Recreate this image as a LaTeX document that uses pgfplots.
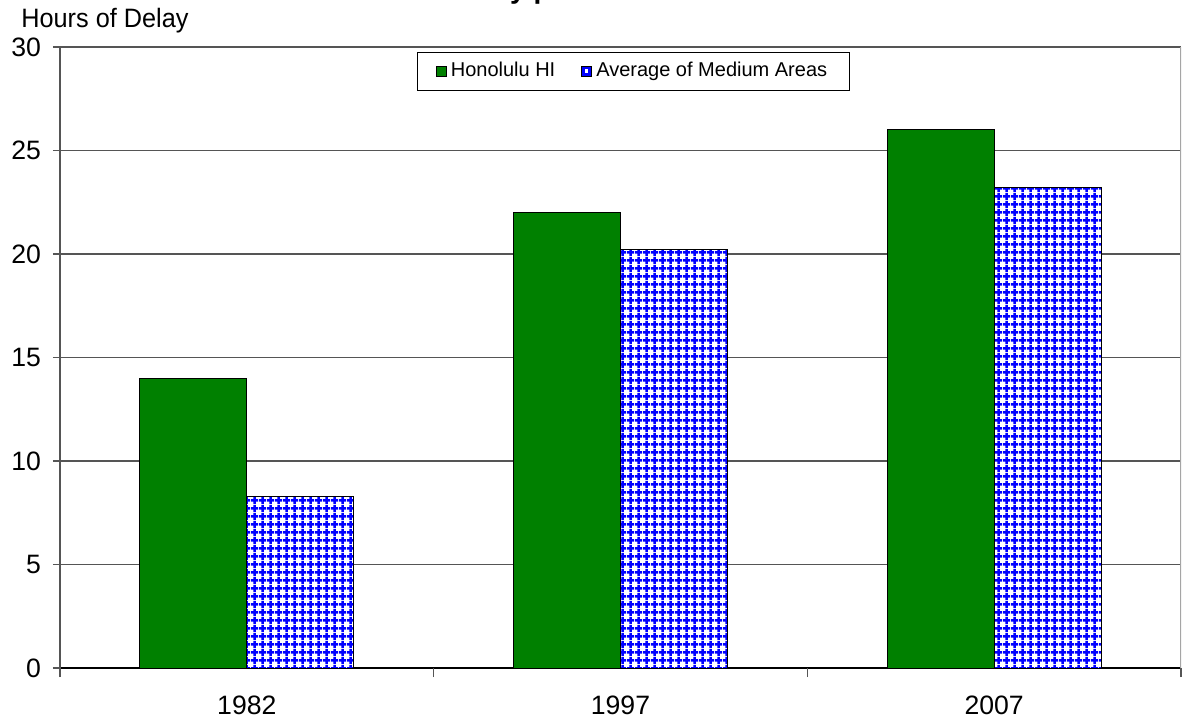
\documentclass[border=0pt]{standalone}
\usepackage{pgfplots}
\pgfplotsset{compat=1.18}
\usepackage{fontspec}
\setmainfont{Liberation Sans}
\usetikzlibrary{patterns.meta}
\definecolor{exgreen}{RGB}{0,128,0}
\definecolor{gridgray}{RGB}{85,85,85}
\definecolor{bordergray}{RGB}{165,165,165}
\tikzdeclarepattern{
  name=bluegrid,
  type=uncolored,
  bottom left={(0pt,0pt)},
  top right={(3.8pt,3.8pt)},
  tile size={(3.8pt,3.8pt)},
  code={
    \pgfsetlinewidth{1.25pt}
    \pgfpathmoveto{\pgfpoint{0pt}{1.9pt}}\pgfpathlineto{\pgfpoint{3.8pt}{1.9pt}}
    \pgfpathmoveto{\pgfpoint{1.9pt}{0pt}}\pgfpathlineto{\pgfpoint{1.9pt}{3.8pt}}
    \pgfusepath{stroke}
  }
}
\begin{document}
\begin{tikzpicture}
\begin{axis}[
  at={(30pt,-334pt)}, anchor=south west,
  width=560.5pt, height=310.5pt, scale only axis,
  ybar, bar width=53.5pt, ybar=0pt,
  xmin=-0.5, xmax=2.5, ymin=0, ymax=30,
  xtick={0,1,2}, xticklabels={1982,1997,2007},
  major x tick style={draw=none},
  extra x ticks={-0.5,0.5,1.5,2.5}, extra x tick labels={},
  extra x tick style={major tick length=4.5pt, tick align=outside, xmajorgrids=false, major x tick style={draw=gridgray, line width=0.8pt}},
  ytick={0,5,...,30},
  ymajorgrids, major grid style={draw=gridgray, line width=0.9pt},
  y tick style={draw=gridgray, line width=0.8pt},
  tick align=outside, major tick length=3.5pt,
  axis x line*=bottom, axis y line*=left,
  x axis line style={-, draw=black, line width=0.9pt},
  y axis line style={-, draw=gridgray, line width=0.9pt},
  ticklabel style={font=\fontsize{13.3}{15}\selectfont},
  yticklabel style={xshift=-2.5pt},
  xticklabel style={yshift=-7pt},
  /pgf/number format/assume math mode=true,
  legend style={at={(0.5116,1)}, yshift=-2.5pt, anchor=north, draw=black, fill=white,
    font=\fontsize{10}{12}\selectfont, legend columns=2,
    inner xsep=9pt, inner ysep=3pt,
    /tikz/every even column/.append style={column sep=11pt}},
  legend cell align=left,
]
\addplot+[draw=black, line width=0.5pt, fill=exgreen, mark=none,
  legend image code/.code={\draw[draw=black, fill=exgreen, line width=0.5pt] (0pt,-2.5pt) rectangle (5pt,2.5pt);}]
  coordinates {(0,14) (1,22) (2,26)};
\addlegendentry{Honolulu HI}
\addplot+[draw=black, line width=0.5pt, fill=white, mark=none,
  postaction={pattern=bluegrid, pattern color=blue},
  legend image code/.code={\draw[draw=black, fill=white, line width=0.5pt] (0pt,-2.5pt) rectangle (5pt,2.5pt); \draw[draw=blue, line width=0.9pt] (1pt,-1.5pt) rectangle (4pt,1.5pt);}]
  coordinates {(0,8.3) (1,20.2) (2,23.2)};
\addlegendentry{Average of Medium Areas}
\draw[draw=bordergray, line width=0.7pt] (rel axis cs:1,0) -- (rel axis cs:1,1);
\end{axis}
\node[anchor=base west, inner sep=0pt, font=\fontsize{13.3}{15}\selectfont, xscale=0.95, transform shape] at (10.5pt,-13.5pt) {Hours of Delay};
\node[anchor=base west, inner sep=0pt, font=\bfseries\fontsize{14}{16}\selectfont] at (174pt,0.7pt) {Annual Delay per Traveler};
\pgfresetboundingbox
\useasboundingbox (0pt,0pt) rectangle (597.5pt,-362.5pt);
\end{tikzpicture}
\end{document}
